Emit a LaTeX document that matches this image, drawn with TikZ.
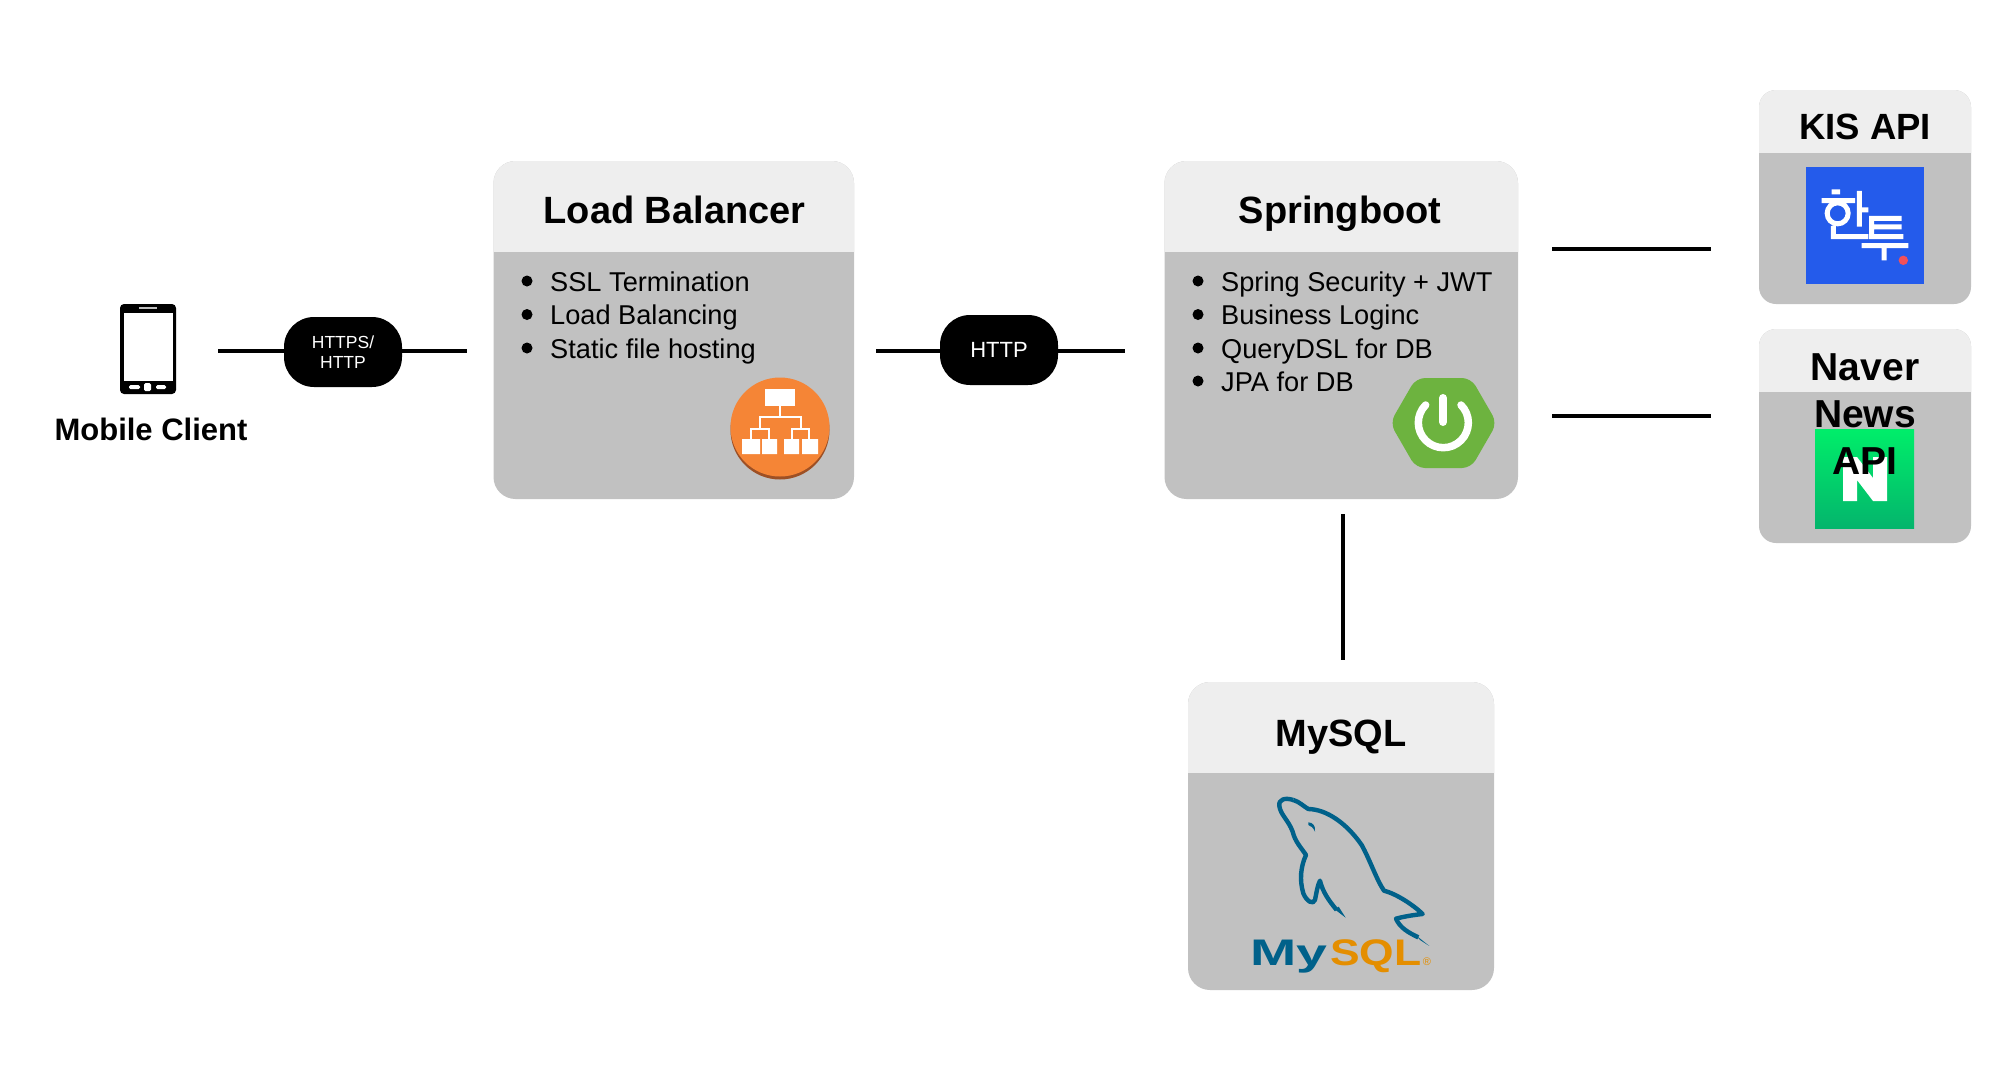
\documentclass[tikz,border=0pt]{standalone}
\usepackage{fontspec}
\setmainfont{Liberation Sans}
\usetikzlibrary{fit,calc}
\definecolor{hdrgrey}{HTML}{EEEEEE}
\definecolor{bodygrey}{HTML}{C1C1C1}
\definecolor{awsorange}{HTML}{F58536}
\definecolor{awsdark}{HTML}{9D5025}
\definecolor{springgreen}{HTML}{6DB33F}
\definecolor{kisblue}{HTML}{245BEB}
\definecolor{kisred}{HTML}{F0505A}
\definecolor{navertop}{HTML}{00EE6A}
\definecolor{naverbot}{HTML}{04B56C}
\definecolor{sqlblue}{HTML}{00618A}
\definecolor{sqlorange}{HTML}{E48E00}
\tikzset{
  x=1pt,y=-1pt,
  wire/.style={line width=3.2pt,black},
  pill/.style={fill=black,text=white,rounded corners=30pt,inner sep=0pt,minimum width=118pt,minimum height=70pt,align=center},
  titletext/.style={anchor=base,inner sep=0pt,font=\bfseries\fontsize{38}{47}\selectfont},
  smalltitle/.style={anchor=base,inner sep=0pt,align=center,font=\bfseries\fontsize{36.5}{47}\selectfont},
  navertext/.style={anchor=base,inner sep=0pt,align=center,font=\bfseries\fontsize{39}{47}\selectfont},
  itemtext/.style={anchor=base west,inner sep=0pt,font=\fontsize{27.2}{33}\selectfont,text=black},
  dotmark/.style={circle,fill=black,inner sep=0pt,minimum size=11pt},
  panelbody/.style={fill=bodygrey,inner sep=0pt},
}
% name, left, top, right, header bottom, bottom, radius
\newcommand{\panelbox}[7]{%
  \node[panelbody,rounded corners=#7pt,fit={(#2,#3)(#4,#6)}] (#1) {};
  \begin{scope}
    \clip (#2,#3) rectangle (#4,#5);
    \fill[hdrgrey,rounded corners=#7pt] (#2,#3) rectangle (#4,#6);
  \end{scope}
}
\begin{document}
\begin{tikzpicture}
\useasboundingbox (0,0) rectangle (2000,1080);
\fill[white] (0,0) rectangle (2000,1080);

% connector free ends
\coordinate (c1a) at (218,351);
\coordinate (c1b) at (467,351);
\coordinate (c2a) at (876,351);
\coordinate (c2b) at (1125,351);
\coordinate (c3a) at (1552,249);
\coordinate (c3b) at (1711,249);
\coordinate (c4a) at (1552,416);
\coordinate (c4b) at (1711,416);
\coordinate (c5a) at (1343,514);
\coordinate (c5b) at (1343,660);

% panels
\panelbox{lbbox}{493.5}{161}{854}{251}{499}{22}
\panelbox{springbox}{1164.5}{161}{1518}{251}{499}{22}
\panelbox{kisbox}{1759}{90}{1971}{152.5}{304}{17}
\panelbox{naverbox}{1759}{329}{1971}{391.5}{543}{17}
\panelbox{mysqlbox}{1188}{682}{1494}{772}{990}{22}

% phone
\node[fill=black,rounded corners=4pt,inner sep=0pt,fit={(120,304)(176,394)}] (phone) {};
\fill[white] (124,313) rectangle (173,381);
\fill[white!75!black] (139,307) rectangle (157,309);
\fill[white,rounded corners=1.5pt] (129,385) rectangle (140,389);
\fill[white,rounded corners=1.5pt] (144,383) rectangle (151,391);
\fill[white,rounded corners=1.5pt] (156,385) rectangle (166,389);
\node[anchor=base,inner sep=0pt,font=\bfseries\fontsize{31}{36}\selectfont] (mobilelabel) at (151,440) {Mobile Client};

% pills
\node[pill,font=\fontsize{17.5}{20.5}\selectfont] (pill1) at (343,352) {HTTPS/\\HTTP};
\node[pill,font=\fontsize{22}{26}\selectfont] (pill2) at (999,350) {HTTP};

% connectors
\draw[wire] (c1a) -- (c1a -| pill1.west);
\draw[wire] (c1b -| pill1.east) -- (c1b);
\draw[wire] (c2a) -- (c2a -| pill2.west);
\draw[wire] (c2b -| pill2.east) -- (c2b);
\draw[wire] (c3a) -- (c3b);
\draw[wire] (c4a) -- (c4b);
\draw[wire] (c5a) -- (c5b);

% load balancer
\node[titletext] (lbtitle) at (674.5,223) {Load Balancer};
\node[dotmark] (lbd1) at (527,281) {};
\node[dotmark] (lbd2) at (527,314.5) {};
\node[dotmark] (lbd3) at (527,348) {};
\node[itemtext] (lbt1) at (550,291) {SSL Termination};
\node[itemtext] (lbt2) at (550,324.5) {Load Balancing};
\node[itemtext] (lbt3) at (550,358) {Static file hosting};
% load balancer icon
\fill[awsdark] (780,430) circle[radius=49.5];
\fill[awsorange] (780,427) circle[radius=49.5];
\fill[white] (765,389) rectangle (795,406);
\draw[white,line width=2pt] (780,406) -- (780,417) (760,429) -- (760,417) -- (801,417) -- (801,429)
  (751,439) -- (751,429) -- (769,429) -- (769,439)
  (792,439) -- (792,429) -- (809,429) -- (809,439);
\fill[white] (742,439) rectangle (760,454) (762,439) rectangle (777,454)
             (784,439) rectangle (799,454) (802,439) rectangle (818,454);

% springboot
\node[titletext] (sptitle) at (1340,223) {Springboot};
\node[dotmark] (spd1) at (1198,281) {};
\node[dotmark] (spd2) at (1198,314.5) {};
\node[dotmark] (spd3) at (1198,348) {};
\node[dotmark] (spd4) at (1198,381) {};
\node[itemtext] (spt1) at (1221,291) {Spring Security + JWT};
\node[itemtext] (spt2) at (1221,324.5) {Business Loginc};
\node[itemtext] (spt3) at (1221,358) {QueryDSL for DB};
\node[itemtext] (spt4) at (1221,391) {JPA for DB};
% spring icon
\fill[springgreen,rounded corners=9pt] (1390,423) -- (1416,378) -- (1471,378) -- (1497,423) -- (1471,468) -- (1416,468) -- cycle;
\draw[white,line width=7.5pt,line cap=round] (1461,405) arc[start angle=-45,end angle=225,radius=25];
\draw[white,line width=8pt,line cap=round] (1443,398) -- (1443,422);

% KIS
\node[smalltitle] (kistitle) at (1865,139) {KIS API};
\fill[kisblue] (1806,167) rectangle (1924,284);
\begin{scope}[shift={(1740,80)},x=0.3333pt,y=-0.3333pt]
  \draw[white,line width=5pt]
    (275,336) -- (300,336) (245,362) -- (345,362)
    (293,400) circle[radius=10.5pt]
    (358,333) -- (358,440) (358,390) -- (385,390)
    (280,438) -- (280,470) -- (385,470)
    (485,415) -- (395,415) -- (395,470) -- (490,470) (395,441) -- (485,441)
    (365,497) -- (505,497) (432,497) -- (432,541);
  \fill[kisred] (490,541) circle[radius=4.7pt];
\end{scope}

% Naver
\fill[top color=navertop,bottom color=naverbot] (1815,429) rectangle (1914,528);
\fill[white] (1843,457) -- (1857,457) -- (1873,478) -- (1873,457) -- (1887,457) -- (1887,501) -- (1873,501) -- (1857,480) -- (1857,501) -- (1843,501) -- cycle;
\node[navertext] (navertitle) at (1865,474) {Naver\\News\\API};

% MySQL
\node[titletext] (mysqltitle) at (1341,746) {MySQL};
\begin{scope}[shift={(1180,760)},x=0.3333pt,y=-0.3333pt]
  \draw[sqlblue,line width=4.4pt,line join=round]
    (340,120) .. controls (315,112) and (295,118) .. (298,138)
    .. controls (302,165) and (325,180) .. (338,215)
    .. controls (345,245) and (365,265) .. (378,285)
    .. controls (362,320) and (358,360) .. (370,400)
    .. controls (380,425) and (400,435) .. (405,420)
    .. controls (410,395) and (413,375) .. (420,362)
    .. controls (428,395) and (445,420) .. (470,450);
  \fill[sqlblue] (464,448) -- (476,440) -- (497,473) -- cycle;
  \draw[sqlblue,line width=4.4pt,line join=round]
    (340,120) .. controls (358,125) and (372,140) .. (385,147)
    .. controls (440,148) and (500,190) .. (545,255)
    .. controls (570,300) and (590,360) .. (612,392)
    .. controls (650,402) and (700,435) .. (728,462)
    .. controls (700,465) and (670,470) .. (648,476)
    .. controls (660,505) and (690,520) .. (715,532);
  \fill[sqlblue] (708,526) -- (720,540) -- (748,558) -- cycle;
  \fill[sqlblue] (385,187) .. controls (398,187) and (408,198) .. (405,215) .. controls (400,203) and (392,197) .. (385,195) -- cycle;
\end{scope}
\node[anchor=base west,inner sep=0pt,text=sqlblue,xscale=1.5,font=\bfseries\fontsize{37}{40}\selectfont] (sqlmy) at (1250,965) {My};
\node[anchor=base west,inner sep=0pt,text=sqlorange,xscale=1.2,font=\bfseries\fontsize{37}{40}\selectfont] (sqlname) at (1330,965) {SQL};
\node[inner sep=0pt,text=sqlorange,font=\fontsize{11}{12}\selectfont] (sqlreg) at (1427,962) {®};
\end{tikzpicture}
\end{document}
